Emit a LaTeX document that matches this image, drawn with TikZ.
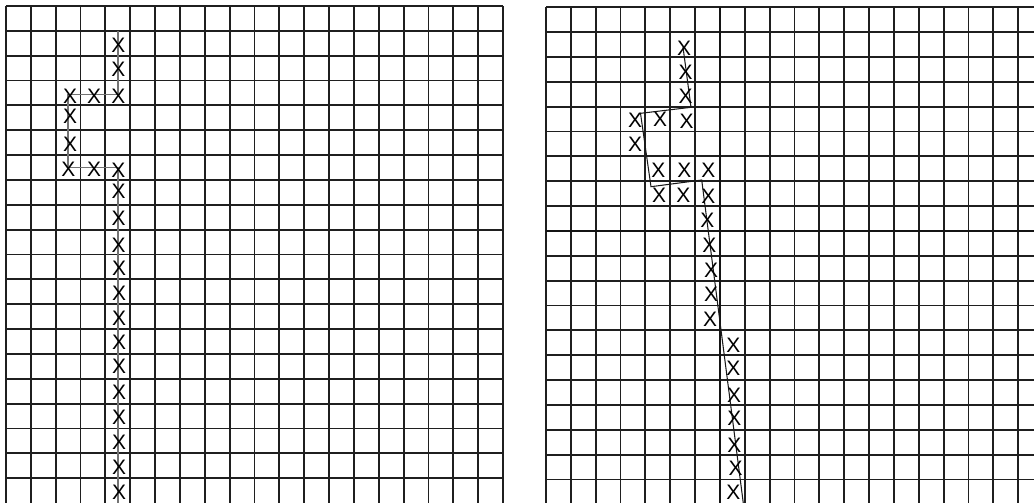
\documentclass[tikz,border=0pt]{standalone}
\usepackage{fontspec}
\setmainfont{Liberation Sans}
\tikzset{
  gridline/.style={line width=1.05pt, black!88},
  axisline/.style={line width=1.6pt, black!92},
  trail/.style={line width=0.8pt, black!55},
  rtrail/.style={line width=0.6pt, black!90},
  xmark/.style={inner sep=0pt, font=\fontsize{12}{14}\selectfont}
}
\begin{document}
\begin{tikzpicture}[x=0.5cm,y=0.5cm]
\clip (0,0) rectangle (41.61,-20.24);
% left chart
\begin{scope}[shift={(0.241,-0.241)}]
\foreach \i in {0,...,20} \draw[gridline] (\i,0) -- (\i,-20.5);
\foreach \j in {0,...,19} \draw[gridline] (0,-\j) -- (20,-\j);
\coordinate (lstart) at (4.5,-1);
\coordinate (lturn1) at (4.5,-3.55);
\coordinate (lturn2) at (2.5,-3.55);
\coordinate (lturn3) at (2.5,-6.5);
\coordinate (lturn4) at (4.5,-6.5);
\coordinate (lend) at (4.5,-20.5);
\draw[trail] (lstart) -- (lturn1) -- (lturn2) -- (lturn3) -- (lturn4) -- (lend);
\foreach \c/\r [count=\n] in {4.52/1.57, 4.52/2.55, 4.52/3.65, 2.58/3.65, 3.55/3.65,
  2.58/4.45, 2.58/5.55, 2.51/6.57, 3.55/6.57, 4.52/6.60,
  4.53/7.47, 4.53/8.54, 4.53/9.62, 4.55/10.56, 4.55/11.56, 4.55/12.57, 4.55/13.55,
  4.55/14.51, 4.55/15.56, 4.55/16.57, 4.55/17.57, 4.55/18.56, 4.55/19.55}
  \node[xmark] (lx\n) at (\c,-\r) {X};
\end{scope}
% right chart
\begin{scope}[shift={(21.972,-0.294)}]
\foreach \i in {0,...,20} \draw[gridline] (\i,0) -- (\i,-20.5);
\foreach \j in {0,...,20} \draw[gridline] (0,-\j) -- (20,-\j);
\draw[axisline] (7,0) -- (7,-20.5);
\draw[axisline] (0,-9) -- (20,-9);
\coordinate (rstart) at (5.513,-1.598);
\coordinate (rturn1) at (5.835,-4.024);
\coordinate (rturn2) at (3.803,-4.266);
\coordinate (rturn3) at (4.225,-7.219);
\coordinate (rturn4) at (6.266,-6.950);
\coordinate (rend) at (8.01,-20.5);
\draw[rtrail] (rstart) -- (rturn1) -- (rturn2) -- (rturn3) -- (rturn4) -- (rend);
\foreach \c/\r [count=\n] in {5.553/1.650, 5.622/2.616, 5.622/3.569,
  3.581/4.563, 4.588/4.507, 5.662/4.604, 3.581/5.501,
  4.519/6.547, 5.565/6.575, 6.531/6.547,
  4.547/7.581, 5.525/7.581, 6.531/7.622,
  6.491/8.559, 6.571/9.565, 6.640/10.600, 6.640/11.549, 6.600/12.555,
  7.537/13.590, 7.537/14.527, 7.565/15.602, 7.577/16.539, 7.577/17.613,
  7.634/18.551, 7.537/19.533}
  \node[xmark] (rx\n) at (\c,-\r) {X};
\end{scope}
\end{tikzpicture}
\end{document}
